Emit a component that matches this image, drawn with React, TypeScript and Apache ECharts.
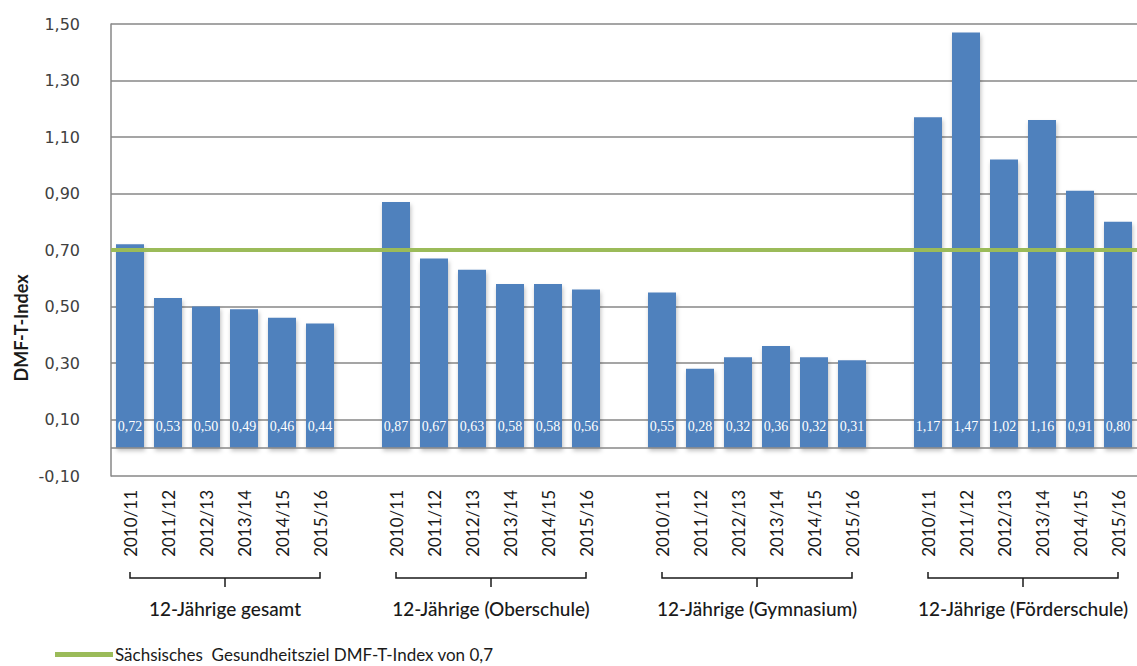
import React, { useEffect, useRef } from "react";
import * as echarts from "echarts";

// School years shown in every group
const years = ["2010/11", "2011/12", "2012/13", "2013/14", "2014/15", "2015/16"];

// Group titles under the brackets
const groupNames = [
  "12-Jährige gesamt",
  "12-Jährige (Oberschule)",
  "12-Jährige (Gymnasium)",
  "12-Jährige (Förderschule)",
];

// DMF-T index per group and school year
const gesamt = [0.72, 0.53, 0.5, 0.49, 0.46, 0.44];
const oberschule = [0.87, 0.67, 0.63, 0.58, 0.58, 0.56];
const gymnasium = [0.55, 0.28, 0.32, 0.36, 0.32, 0.31];
const foerderschule = [1.17, 1.47, 1.02, 1.16, 0.91, 0.8];

// Health target
const zielWert = 0.7;
const zielName = "Sächsisches  Gesundheitsziel DMF-T-Index von 0,7";

const groups = [gesamt, oberschule, gymnasium, foerderschule];

// Build the category axis with one empty slot between groups
const categories: string[] = [];
const values: (number | null)[] = [];
const groupIdx: number[][] = [];
groups.forEach((g, gi) => {
  if (gi > 0) {
    categories.push("");
    values.push(null);
  }
  const idx: number[] = [];
  g.forEach((v, i) => {
    idx.push(categories.length);
    categories.push(years[i]);
    values.push(v);
  });
  groupIdx.push(idx);
});

const FONT = "Lato, 'Open Sans', sans-serif";
const fmt = (v: number) => v.toFixed(2).replace(".", ",");

export default function App() {
  const ref = useRef<HTMLDivElement>(null);

  useEffect(() => {
    if (!ref.current) return;
    const chart = echarts.init(ref.current, null, { renderer: "svg" });

    chart.setOption({
      animation: false,
      backgroundColor: "#ffffff",
      grid: { left: 111, right: 0, top: 24, bottom: 190 },
      legend: {
        left: 50,
        top: 641,
        icon: "rect",
        itemWidth: 58,
        itemHeight: 5,
        itemGap: 0,
        textStyle: { fontFamily: FONT, fontSize: 17, color: "#1a1a1a", padding: [0, 0, 0, -3] },
        data: [zielName],
      },
      xAxis: {
        type: "category",
        data: categories,
        axisLine: { show: false },
        axisTick: { show: false },
        axisLabel: {
          rotate: 90,
          interval: 0,
          margin: 14,
          fontFamily: FONT,
          fontSize: 17,
          color: "#1a1a1a",
        },
      },
      yAxis: {
        type: "value",
        min: -0.1,
        max: 1.5,
        interval: 0.2,
        axisLine: { show: true, lineStyle: { color: "#878787", width: 1.5 } },
        axisTick: { show: false },
        splitLine: { lineStyle: { color: "#878787", width: 1.5 } },
        axisLabel: {
          margin: 31,
          fontFamily: "'DejaVu Sans', sans-serif",
          fontSize: 16,
          color: "#404040",
          formatter: (v: number) => fmt(v),
        },
      },
      series: [
        {
          type: "bar",
          data: values,
          barWidth: 28,
          itemStyle: {
            color: "#4F81BD",
            shadowColor: "rgba(0,0,0,0.25)",
            shadowBlur: 4,
            shadowOffsetX: 1,
            shadowOffsetY: 3,
          },
          label: {
            show: true,
            position: "insideBottom",
            distance: 14,
            color: "#ffffff",
            fontFamily: "'Liberation Serif', 'DejaVu Serif', serif",
            fontSize: 14,
            formatter: (p: any) => fmt(p.value),
          },
          markLine: {
            silent: true,
            symbol: "none",
            label: { show: false },
            lineStyle: { color: "#878787", width: 1.5, type: "solid" },
            data: [{ yAxis: 0 }],
          },
        },
        {
          type: "line",
          name: zielName,
          data: [],
          color: "#9BBB59",
          lineStyle: { color: "#9BBB59", width: 4 },
          markLine: {
            silent: true,
            symbol: "none",
            label: { show: false },
            lineStyle: { color: "#9BBB59", width: 4, type: "solid" },
            data: [{ yAxis: zielWert }],
          },
        },
      ],
    });

    // Brackets and group titles placed under each group's labels
    const graphics: any[] = [];
    groupIdx.forEach((idx, gi) => {
      const x0 = chart.convertToPixel({ xAxisIndex: 0 }, idx[0]) as number;
      const x1 = chart.convertToPixel({ xAxisIndex: 0 }, idx[idx.length - 1]) as number;
      const xm = (x0 + x1) / 2;
      graphics.push({
        type: "polyline",
        shape: { points: [[x0, 572], [x0, 578], [x1, 578], [x1, 572]] },
        style: { stroke: "#1a1a1a", lineWidth: 1.5, fill: null },
      });
      graphics.push({
        type: "line",
        shape: { x1: xm, y1: 578, x2: xm, y2: 587 },
        style: { stroke: "#1a1a1a", lineWidth: 1.5 },
      });
      graphics.push({
        type: "text",
        x: xm,
        y: 608,
        style: {
          text: groupNames[gi],
          fontFamily: FONT,
          fontSize: 19,
          fontWeight: 500,
          fill: "#1a1a1a",
          align: "center",
          verticalAlign: "middle",
        },
      });
    });
    graphics.push({
      type: "text",
      x: 21,
      y: 328,
      rotation: Math.PI / 2,
      style: {
        text: "DMF-T-Index",
        fontFamily: FONT,
        fontSize: 18,
        fontWeight: "bold",
        fill: "#1a1a1a",
        align: "center",
        verticalAlign: "middle",
      },
    });
    chart.setOption({ graphic: graphics });

    return () => chart.dispose();
  }, []);

  return (
    <div
      ref={ref}
      style={{ position: "fixed", left: 0, top: 0, width: 1137, height: 666 }}
    />
  );
}
